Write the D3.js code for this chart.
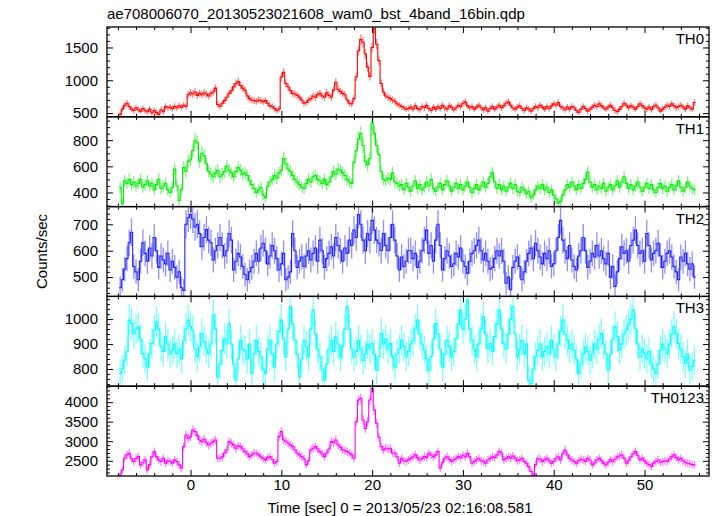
<!DOCTYPE html>
<html><head><meta charset="utf-8">
<script src="https://cdn.jsdelivr.net/npm/d3@7"></script>
<style>body{margin:0;background:#fff}text{font-family:"Liberation Sans",Arial,Helvetica,sans-serif}</style>
</head><body>
<svg id="c" width="717" height="516"></svg>
<script>
const title = "ae708006070_20130523021608_wam0_bst_4band_16bin.qdp";
const xLabel = "Time [sec] 0 = 2013/05/23 02:16:08.581";
const yLabel = "Counts/sec";
const binStart = -7.75, binSize = 0.25;
const panelNames = ["TH0", "TH1", "TH2", "TH3", "TH0123"];
const panelColors = ["#ff0000", "#00ee00", "#2020ff", "#00ffff", "#ff00ff"];
const yDomains = [[443, 1812], [292, 979], [427, 767], [731, 1091], [2110, 4408]];
const yMajorTicks = [[500, 1000, 1500], [400, 600, 800], [500, 600, 700], [800, 900, 1000], [2500, 3000, 3500, 4000]];
const yMinorStep = [100, 50, 20, 20, 100];
const xMajorTicks = [0, 10, 20, 30, 40, 50];
const xMinorStep = 2;

const th0 = [
480,560,620,650, 600,560,540,580, 550,530,570,540, 520,560,500,540,
510,480,550,520, 600,580,590,570, 600,580,610,590, 620,600,780,810,
790,820,770,800, 780,810,790,760, 800,820,880,630, 600,650,690,740,
800,840,900,950, 980,920,880,850, 760,720,700,690, 680,700,690,670,
690,650,610,600, 570,540,560,1050, 1120,950,900,840, 800,790,770,740,
700,650,660,700, 720,760,740,780, 800,760,740,810, 770,740,850,970,
860,830,800,780, 700,650,640,720, 1050,1450,1620,1580, 1400,1200,1060,1500,
1790,1550,1300,950, 820,760,740,720, 700,680,640,620, 600,580,560,570,
590,560,610,570, 550,600,580,620, 570,540,590,560, 600,570,620,580,
560,610,590,550, 580,620,600,650, 670,610,580,600, 560,590,620,580,
550,580,530,570, 600,560,590,620, 580,610,650,670, 620,580,560,590,
610,570,540,580, 560,530,570,600, 580,620,590,560, 600,570,610,640,
620,660,600,580, 550,590,560,600, 580,540,510,560, 600,570,530,560,
590,620,600,640, 610,580,560,590, 620,580,540,520, 560,600,650,620,
580,610,590,560, 600,640,610,580, 560,590,550,600, 620,580,530,560,
590,620,600,640, 610,580,600,620, 590,560,610,580, 560,660];

const th1 = [
440,315,490,470, 500,460,480,450, 470,500,440,460, 490,450,470,420,
460,500,430,450, 470,420,400,440, 580,450,340,420, 590,560,640,650,
720,800,780,640, 700,680,620,560, 540,520,550,570, 520,540,560,600,
570,550,520,560, 590,570,540,550, 530,490,460,430, 400,420,440,380,
360,450,480,500, 530,510,550,570, 660,620,580,560, 530,500,480,460,
440,430,470,500, 480,520,530,500, 490,470,500,460, 480,520,560,540,
580,570,550,530, 500,480,470,630, 720,810,850,760, 640,610,660,930,
850,760,690,560, 500,490,510,500, 550,480,470,450, 460,420,470,440,
410,450,490,430, 460,420,440,480, 450,500,430,410, 440,470,420,460,
490,450,410,440, 470,430,460,420, 450,480,440,400, 430,460,420,450,
480,440,470,520, 550,480,430,460, 420,450,410,440, 470,430,460,410,
400,440,420,390, 410,360,380,420, 450,430,460,420, 440,400,420,380,
350,320,330,380, 420,460,440,480, 450,420,460,430, 470,500,556,480,
440,460,420,450, 430,470,410,440, 460,420,450,490, 440,480,520,470,
430,460,420,450, 480,440,410,440, 470,430,460,420, 400,440,470,430,
450,410,440,460, 420,450,490,440, 410,440,480,450, 430,420];

const th2 = [
460,490,530,570, 630,670,540,520, 490,560,630,590, 560,610,580,650,
600,537,580,565, 550,590,527,560, 537,500,520,460, 450,700,725,737,
720,690,700,665, 615,650,680,640, 630,565,600,620, 650,620,580,600,
665,640,527,560, 590,576,540,510, 490,520,537,560, 590,560,610,628,
600,550,580,620, 600,570,527,550, 590,490,500,520, 665,600,537,560,
576,540,580,600, 565,590,610,560, 640,600,537,570, 590,615,580,650,
620,600,560,610, 590,640,620,678, 650,737,700,640, 600,665,640,715,
678,640,628,600, 665,620,600,650, 700,640,580,527, 576,540,560,600,
600,570,590,537, 560,600,640,678, 590,620,560,640, 700,620,527,570,
600,580,540,550, 590,576,610,560, 540,515,560,590, 600,620,640,600,
565,590,560,530, 537,570,600,580, 600,560,477,500, 452,537,560,576,
540,490,520,560, 590,610,570,628, 600,576,550,590, 570,600,540,550,
600,650,715,640, 600,570,620,565, 540,527,580,600, 650,600,537,560,
590,576,620,580, 600,570,550,590, 500,540,465,520, 570,615,590,600,
560,620,640,678, 620,590,600,560, 665,620,565,590, 600,628,580,537,
560,590,600,576, 540,520,490,576, 560,590,550,530, 550,500];

const th3 = [
782,800,835,869, 996,982,942,960, 969,920,862,840, 808,860,902,955,
989,960,889,870, 929,900,860,875, 900,862,880,840, 915,960,996,970,
955,880,848,889, 942,910,880,862, 900,1016,960,768, 820,875,920,900,
982,900,820,755, 840,915,880,875, 840,900,782,860, 915,870,848,800,
782,880,915,860, 808,900,950,996, 920,848,960,1050, 980,915,860,768,
840,915,890,848, 960,1036,940,880, 848,800,755,820, 880,915,870,929,
900,848,890,960, 1050,960,880,848, 870,915,880,835, 860,900,880,902,
860,795,850,942, 900,920,880,902, 850,808,860,880, 915,890,848,870,
900,915,960,996, 940,900,875,840, 795,850,920,982, 940,880,808,860,
915,890,848,870, 920,980,1036,960, 1000,1077,960,915, 880,848,900,960,
1009,940,880,902, 870,930,980,1036, 960,902,880,940, 1000,1050,940,848,
880,915,860,900, 755,741,800,850, 875,900,848,870, 890,860,915,880,
848,900,950,996, 940,915,880,900, 875,840,782,820, 860,889,870,835,
860,900,880,920, 942,900,860,795, 860,920,969,930, 875,900,940,955,
980,1000,1036,960, 900,848,880,860, 840,870,821,800, 782,820,875,900,
880,862,900,940, 969,940,902,880, 850,821,860,795, 810,835];

const th0123 = [
2140,2266,2564,2650, 2692,2550,2480,2560, 2607,2394,2450,2522, 2266,2400,2607,2735,
2600,2522,2480,2564, 2437,2500,2480,2440, 2522,2480,2394,2309, 2862,3160,3080,3117,
3287,3245,3150,3032, 2990,3050,2960,2905, 2947,2990,3032,2564, 2564,2600,2700,2777,
2990,2947,2900,2820, 2880,2862,2800,2735, 2680,2607,2650,2700, 2692,2650,2600,2560,
2522,2580,2607,2540, 2437,2480,3117,3245, 3032,3000,2947,2900, 2862,2780,2692,2650,
2607,2550,2394,2500, 2777,2820,2862,2800, 2735,2680,2607,2700, 2800,2990,2960,3032,
2905,2850,2777,2760, 2735,2700,2650,2564, 3500,4054,4096,3543, 3330,3500,4054,4352,
3798,3458,3100,2862, 2777,2820,2800,2820, 2692,2700,2600,2437, 2564,2500,2480,2522,
2560,2600,2650,2580, 2520,2560,2607,2580, 2692,2640,2600,2650, 2735,2309,2450,2564,
2600,2540,2480,2522, 2560,2607,2580,2640, 2600,2692,2600,2437, 2480,2520,2564,2500,
2480,2440,2520,2560, 2600,2580,2650,2735, 2700,2522,2560,2600, 2564,2620,2560,2500,
2522,2560,2480,2437, 2350,2224,2140,2400, 2564,2540,2480,2522, 2560,2500,2440,2480,
2564,2600,2520,2680, 2777,2650,2564,2520, 2480,2437,2500,2540, 2522,2480,2560,2520,
2394,2450,2522,2560, 2500,2440,2394,2460, 2522,2480,2540,2600, 2620,2650,2560,2437,
2500,2600,2680,2735, 2640,2522,2560,2500, 2440,2400,2352,2440, 2480,2520,2460,2480,
2500,2480,2540,2600, 2650,2580,2522,2560, 2500,2460,2437,2420, 2400,2394];

const series = [th0, th1, th2, th3, th0123];

const svg = d3.select("#c");
const left = 107, right = 709, top0 = 27, panelH = 89.8;
const x = d3.scaleLinear().domain([-9.2, 57.1]).range([left, right]);
const xMinor = d3.range(-8, 57, xMinorStep).filter(v => !xMajorTicks.includes(v));

svg.append("text").attr("x", 107).attr("y", 19).attr("font-size", 15).text(title);

series.forEach((vals, p) => {
  const top = top0 + p * panelH, bot = top + panelH;
  const y = d3.scaleLinear().domain(yDomains[p]).range([bot, top]);
  const g = svg.append("g");
  const cid = "clip" + p;
  svg.append("clipPath").attr("id", cid).append("rect")
    .attr("x", left).attr("y", top).attr("width", right - left).attr("height", panelH);
  const dg = g.append("g").attr("clip-path", `url(#${cid})`);
  const col = panelColors[p];
  const pts = vals.map((v, i) => ({t: binStart + i * binSize, v, e: Math.sqrt(v / binSize)}));
  dg.selectAll("line.err").data(pts).join("line").attr("class", "err")
    .attr("x1", d => x(d.t)).attr("x2", d => x(d.t))
    .attr("y1", d => y(d.v - d.e)).attr("y2", d => y(d.v + d.e))
    .attr("stroke", col).attr("stroke-opacity", 0.5).attr("stroke-width", 1.3);
  const stepPts = [];
  pts.forEach(d => { stepPts.push([d.t - binSize / 2, d.v]); stepPts.push([d.t + binSize / 2, d.v]); });
  dg.append("path").attr("d", d3.line().x(d => x(d[0])).y(d => y(d[1]))(stepPts))
    .attr("fill", "none").attr("stroke", col).attr("stroke-width", 1.1);

  const [lo, hi] = yDomains[p];
  const minors = d3.range(Math.ceil(lo / yMinorStep[p]) * yMinorStep[p], hi, yMinorStep[p])
    .filter(v => !yMajorTicks[p].includes(v));
  const ax = (a, vals, size, lab, pad) => a.tickValues(vals).tickSize(size).tickSizeOuter(0).tickPadding(pad)
    .tickFormat(lab ? d3.format("d") : "");
  const addAxis = (axis, tr) => {
    const a = g.append("g").attr("transform", tr).call(axis);
    a.select(".domain").remove();
    a.selectAll("line").attr("stroke", "#000").attr("stroke-width", 1);
    a.selectAll("text").attr("font-size", 15).attr("font-family", '"Liberation Sans",Arial,sans-serif').attr("fill", "#000");
  };
  addAxis(ax(d3.axisLeft(y), yMajorTicks[p], -6, true, 9), `translate(${left},0)`);
  addAxis(ax(d3.axisLeft(y), minors, -3, false, 9), `translate(${left},0)`);
  addAxis(ax(d3.axisRight(y), yMajorTicks[p], -6, false, 9), `translate(${right},0)`);
  addAxis(ax(d3.axisRight(y), minors, -3, false, 9), `translate(${right},0)`);
  addAxis(ax(d3.axisBottom(x), xMajorTicks, -6, p === 4, 3), `translate(0,${bot})`);
  addAxis(ax(d3.axisBottom(x), xMinor, -3, false, 3), `translate(0,${bot})`);
  addAxis(ax(d3.axisTop(x), xMajorTicks, -6, false, 3), `translate(0,${top})`);
  addAxis(ax(d3.axisTop(x), xMinor, -3, false, 3), `translate(0,${top})`);
  g.append("rect").attr("x", left).attr("y", top).attr("width", right - left).attr("height", panelH)
    .attr("fill", "none").attr("stroke", "#000").attr("stroke-width", 1.3);
  g.append("text").attr("x", 704).attr("y", top + 17).attr("text-anchor", "end")
    .attr("font-size", 15).text(panelNames[p]);
});

svg.append("text").attr("transform", `translate(47,${top0 + 2.5 * panelH}) rotate(-90)`)
  .attr("text-anchor", "middle").attr("font-size", 15).text(yLabel);
svg.append("text").attr("x", 400).attr("y", 513).attr("text-anchor", "middle")
  .attr("font-size", 15).text(xLabel);
</script>
</body></html>
